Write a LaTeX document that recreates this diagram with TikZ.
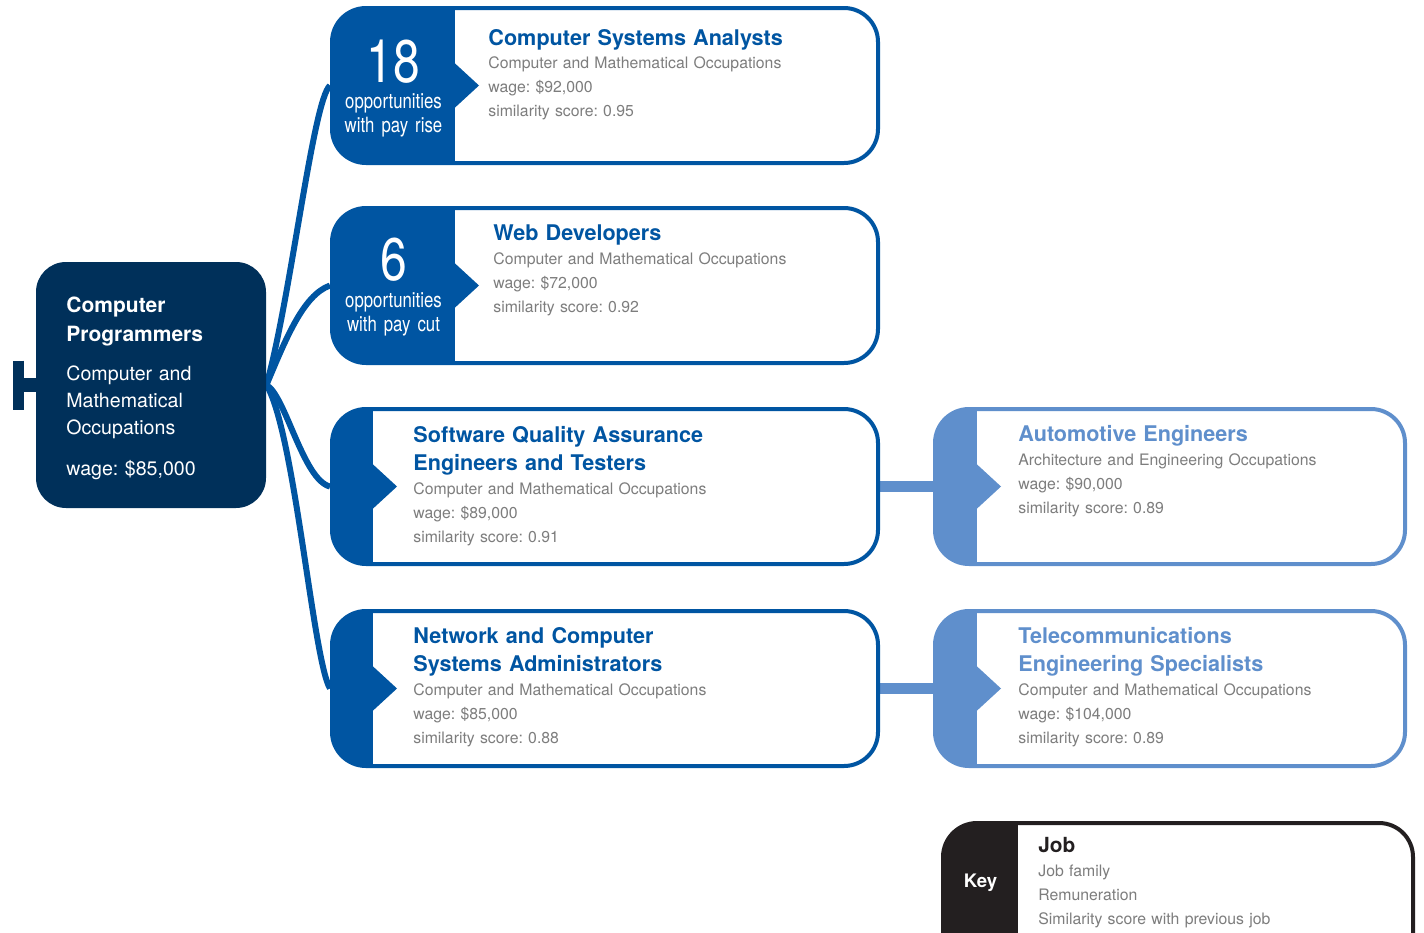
\documentclass[tikz,border=0pt]{standalone}
\usepackage{fontspec}
\setmainfont{TeX Gyre Heros}
\newfontfamily\condfont[FakeStretch=0.8, WordSpace=0.8]{TeX Gyre Heros}
\usetikzlibrary{positioning,backgrounds}
\frenchspacing

\definecolor{navy}{HTML}{00305A}
\definecolor{jobblue}{HTML}{0055A2}
\definecolor{lightblue}{HTML}{5F8FCC}
\definecolor{keyblack}{HTML}{231F20}
\definecolor{txtgray}{HTML}{7D7D7D}

\tikzstyle{startjob} = [fill=navy, rounded corners=15pt, minimum width=115pt, minimum height=123pt, inner sep=0pt]
\tikzstyle{jobtitle} = [anchor=base west, inner sep=0pt, text width=200pt, align=left, font=\bfseries\fontsize{10.8}{14}\selectfont]
\tikzstyle{jobinfo} = [anchor=base west, inner sep=0pt, text width=200pt, align=left, text=txtgray, font=\fontsize{7.9}{12}\selectfont]
\tikzstyle{bignum} = [anchor=base, inner sep=0pt, text=white, font=\condfont\fontsize{30}{30}\selectfont]
\tikzstyle{numlabel} = [anchor=base, inner sep=0pt, text width=60pt, align=center, text=white, font=\condfont\fontsize{10.5}{12}\selectfont]
\tikzstyle{link} = [draw=jobblue, line width=3pt]
\tikzstyle{sidelink} = [draw=lightblue, line width=5.5pt]
\tikzset{
  card/.style 2 args={draw=#1, fill=white, line width=2pt, rounded corners=17pt,
    minimum width=273pt, minimum height=77.5pt, inner sep=0pt,
    path picture={
      \fill[#1, sharp corners] (path picture bounding box.south west) rectangle ([xshift=#2]path picture bounding box.north west);
      \fill[#1, sharp corners] ([xshift=#2-0.5pt, yshift=11.5pt]path picture bounding box.west)
        -- ([xshift=#2+12pt]path picture bounding box.west)
        -- ([xshift=#2-0.5pt, yshift=-11.5pt]path picture bounding box.west) -- cycle;
    }},
  keybox/.style={draw=keyblack, fill=white, line width=2pt, rounded corners=17pt,
    minimum width=235pt, minimum height=77.5pt, inner sep=0pt,
    path picture={
      \fill[keyblack, sharp corners] (path picture bounding box.south west) rectangle ([xshift=37.5pt]path picture bounding box.north west);
    }}
}

\begin{document}
\begin{tikzpicture}[x=0.5pt, y=-0.5pt]
\useasboundingbox (0,0) rectangle (1424,932);
\clip (0,0) rectangle (1424,932);

% Previous job
\node (prog) [startjob] at (151,385) {};
\coordinate (start) at (18.5,385);
\draw [navy, line width=7pt] (prog.west) -- (start);
\draw [navy, line width=5.5pt] ([yshift=12.25pt]start) -- ([yshift=-12.25pt]start);
\node (prog_t) [jobtitle, text=white, font=\bfseries\fontsize{10.5}{14.5}\selectfont] at (66,312) {Computer\\Programmers};
\node (prog_d) [jobinfo, text=white, font=\fontsize{9.8}{13.5}\selectfont] at (66,380) {Computer and\\Mathematical\\Occupations\\[7pt]wage: \$85,000};

% Next jobs
\node (csa) [card={jobblue}{61.5pt}] at (605,85.5) {};
\node (web) [card={jobblue}{61.5pt}, below of=csa, node distance=100pt] {};
\node (sqa) [card={jobblue}{20.5pt}, below of=web, node distance=100.5pt] {};
\node (nca) [card={jobblue}{20.5pt}, below of=sqa, node distance=101pt] {};
\node (auto) [card={lightblue}{21pt}, minimum width=235pt, right of=sqa, node distance=282.5pt] {};
\node (tele) [card={lightblue}{21pt}, minimum width=235pt, right of=nca, node distance=282.5pt] {};

\node (csa_n) [bignum] at (393.5,82) {18};
\node (csa_o) [numlabel] at (393.5,108) {opportunities\\with pay rise};
\node (web_n) [bignum] at (393.5,280) {6};
\node (web_o) [numlabel] at (393.5,307) {opportunities\\with pay cut};

\node (csa_t) [jobtitle, text=jobblue] at (488,45) {Computer Systems Analysts};
\node (csa_d) [jobinfo] at (488,68) {Computer and Mathematical Occupations\\wage: \$92,000\\similarity score: 0.95};
\node (web_t) [jobtitle, text=jobblue] at (493,240) {Web Developers};
\node (web_d) [jobinfo] at (493,264) {Computer and Mathematical Occupations\\wage: \$72,000\\similarity score: 0.92};
\node (sqa_t) [jobtitle, text=jobblue] at (413,442) {Software Quality Assurance\\Engineers and Testers};
\node (sqa_d) [jobinfo] at (413,494) {Computer and Mathematical Occupations\\wage: \$89,000\\similarity score: 0.91};
\node (nca_t) [jobtitle, text=jobblue] at (413,643) {Network and Computer\\Systems Administrators};
\node (nca_d) [jobinfo] at (413,695) {Computer and Mathematical Occupations\\wage: \$85,000\\similarity score: 0.88};
\node (auto_t) [jobtitle, text=lightblue] at (1018,441) {Automotive Engineers};
\node (auto_d) [jobinfo] at (1018,465) {Architecture and Engineering Occupations\\wage: \$90,000\\similarity score: 0.89};
\node (tele_t) [jobtitle, text=lightblue] at (1018,643) {Telecommunications\\Engineering Specialists};
\node (tele_d) [jobinfo] at (1018,695) {Computer and Mathematical Occupations\\wage: \$104,000\\similarity score: 0.89};

\begin{scope}[on background layer]
\draw [link] (prog.east) .. controls +(24,-85) and +(-17,14.5) .. (csa.west);
\draw [link] (prog.east) .. controls +(19,-45) and +(-27,9.5) .. (web.west);
\draw [link] (prog.east) .. controls +(19,10) and +(-27,-6.5) .. (sqa.west);
\draw [link] (prog.east) .. controls +(28,45) and +(-17,-28.5) .. (nca.west);
\draw [sidelink] (sqa.east) -- (auto.west);
\draw [sidelink] (nca.east) -- (tele.west);
\end{scope}

% Key
\node (key) [keybox] at (1178,900.5) {};
\node (key_l) [text=white, font=\bfseries\fontsize{9.3}{11}\selectfont] at (980.5,883) {Key};
\node (key_t) [jobtitle, text=keyblack, font=\bfseries\fontsize{10.4}{13}\selectfont] at (1038,852) {Job};
\node (key_d) [jobinfo] at (1038,876) {Job family\\Remuneration\\Similarity score with previous job};
\end{tikzpicture}
\end{document}
